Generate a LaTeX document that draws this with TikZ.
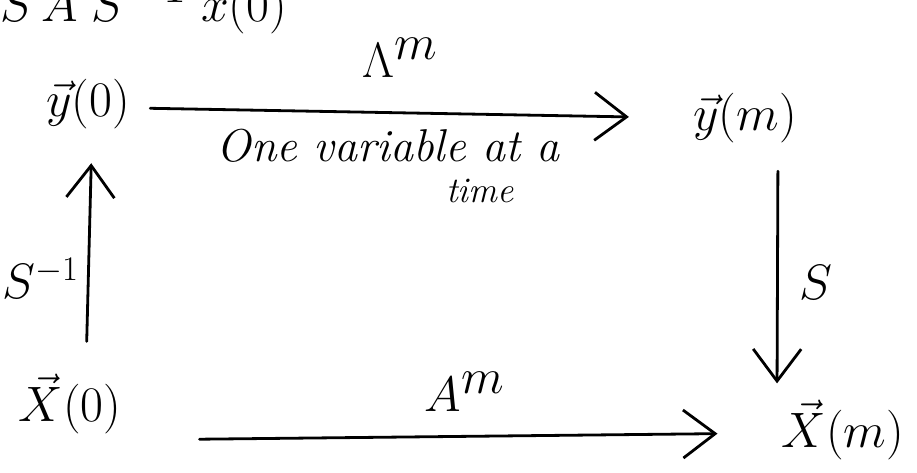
\documentclass[tikz,border=0pt]{standalone}
\usepackage{amsmath}
\usetikzlibrary{arrows.meta, calc}
\tikzset{
  >={Straight Barb[length=16pt, width=24pt]},
  obj/.style={
    inner sep=2pt, font=\fontsize{30}{34}\selectfont
  },
  maplabel/.style={
    inner sep=0pt, font=\fontsize{38}{42}\selectfont
  },
  note/.style={
    inner sep=0pt, font=\fontsize{23}{26}\selectfont\itshape
  },
  notesm/.style={
    inner sep=0pt, font=\fontsize{18}{20}\selectfont\itshape
  },
  mapwire/.style={
    line width=1.4pt, line cap=round, line join=round, draw=black
  },
}

\begin{document}
\begin{tikzpicture}[x=0.5pt, y=-0.5pt]

% ---- Frame (page = reference, in px) -------------------------------
\useasboundingbox (0,0) rectangle (917,472);

% ---- Nodes ---------------------------------------------------------
% top row (cut off by the page edge)
\node[maplabel, anchor=base west] (topline) at (0,21) {$S\,A\;S^{-1}\;x(0)$};

% corners of the square
\node[obj] (y0) at ( 88,104) {$\vec{y}(0)$};
\node[obj] (ym) at (745,118) {$\vec{y}(m)$};
\node[obj] (x0) at ( 70,404) {$\vec{X}(0)$};
\node[obj] (xm) at (843,430) {$\vec{X}(m)$};

% map labels
\node[maplabel] (lam)  at (400, 58) {$\Lambda^{m}$};
\node[maplabel] (am)   at (465,392) {$A^{m}$};
\node[maplabel, anchor=west, font=\fontsize{32}{36}\selectfont]
  (sinv) at (2,278) {$S^{\scriptscriptstyle -1}$};
\node[maplabel] (s)    at (816,282) {$S$};

% note under the top arrow
\node[note]   (oneat) at (388,146) {One variable at a};
\node[notesm] (time)  at (480,191) {time};

% ---- Arrows --------------------------------------------------------
% Lambda^m: y(0) -> y(m)
\draw[mapwire, ->, shorten <=8pt, shorten >=30pt]
  ([yshift=-2pt]y0.east) -- (ym.west);

% S^{-1}: X(0) -> y(0)
\draw[mapwire, ->, shorten <=14pt, shorten >=15pt]
  ([xshift=8pt]x0.north) -- ([xshift=2pt]y0.south);

% S: y(m) -> X(m)
\draw[mapwire, ->, shorten <=12pt, shorten >=6pt]
  ([xshift=16.5pt]ym.south) -- ([xshift=-33pt]xm.north);

% A^m: X(0) -> X(m)
\draw[mapwire, ->, shorten <=37pt, shorten >=30pt]
  ([yshift=-18pt]x0.east) -- ([yshift=-1.5pt]xm.west);

\end{tikzpicture}
\end{document}
